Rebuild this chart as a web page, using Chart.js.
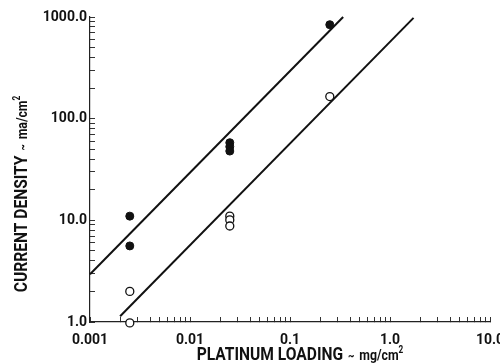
<!DOCTYPE html>
<html>
<head>
<meta charset="utf-8">
<script src="https://cdn.jsdelivr.net/npm/chart.js@4"></script>
<style>
  html, body { margin:0; padding:0; background:#fff; }
  #wrap { width:500px; height:364px; position:relative; }
</style>
</head>
<body>
<div id="wrap"><canvas id="chart" width="500" height="364"></canvas></div>
<script>
// data (log-log)
const filledX = [0.0025, 0.0025, 0.025, 0.025, 0.025, 0.25];
const filledY = [11.0, 5.6, 58, 53, 48, 840];
const openX = [0.0025, 0.0025, 0.025, 0.025, 0.025, 0.25];
const openY = [2.0, 0.98, 11.0, 10.1, 8.8, 165];
const fitFilledX = [0.001, 0.34];
const fitFilledY = [2.95, 1000];
const fitOpenX = [0.002, 1.72];
const fitOpenY = [1.14, 980];

const xMajor = [0.001, 0.01, 0.1, 1, 10];
const xMajorLabels = ['0.001', '0.01', '0.1', '1.0', '10.0'];
const yMajor = [1, 10, 100, 1000];
const yMajorLabels = ['1.0', '10.0', '100.0', '1000.0'];

const FONT = "Roboto, 'Liberation Sans', sans-serif";

(function(){
  const pts = (xs, ys) => xs.map((x, i) => ({x: x, y: ys[i]}));

  // 1..9 x 10^n ticks across the range
  const logTicks = (min, max) => {
    const out = [];
    for (let e = Math.round(Math.log10(min)); e < Math.round(Math.log10(max)); e++) {
      for (let s = 1; s < 10; s++) out.push({value: +(s * Math.pow(10, e)).toPrecision(3)});
    }
    out.push({value: max});
    return out;
  };
  const labelFor = (majors, labels) => (v) => {
    const i = majors.findIndex(m => Math.abs(m - v) / m < 1e-6);
    return i >= 0 ? labels[i] : '';
  };

  // centred run of mixed-size text, squeezed sideways to look condensed
  const drawParts = (ctx, parts) => {
    let total = 0;
    parts.forEach(p => { ctx.font = p.f; p.w = ctx.measureText(p.t).width; total += p.w; });
    let cx = -total / 2;
    parts.forEach(p => {
      ctx.font = p.f;
      ctx.fillText(p.t, cx, p.dy || 0);
      cx += p.w;
    });
  };

  const titles = {
    id: 'titles',
    afterDraw(chart) {
      const ctx = chart.ctx;
      ctx.save();
      ctx.fillStyle = '#111';
      ctx.textBaseline = 'alphabetic';
      ctx.textAlign = 'left';
      ctx.translate(300, 360);
      ctx.scale(0.82, 1);
      drawParts(ctx, [
        {t: 'PLATINUM LOADING', f: 'bold 19px ' + FONT},
        {t: '  ~  ', f: 'bold 12px ' + FONT},
        {t: 'mg/cm', f: 'bold 15px ' + FONT},
        {t: '2', f: 'bold 10px ' + FONT, dy: -7}
      ]);
      ctx.restore();

      ctx.save();
      ctx.fillStyle = '#111';
      ctx.textBaseline = 'alphabetic';
      ctx.textAlign = 'left';
      ctx.translate(27, 194);
      ctx.rotate(-Math.PI / 2);
      ctx.scale(0.82, 1);
      drawParts(ctx, [
        {t: 'CURRENT DENSITY', f: 'bold 19px ' + FONT},
        {t: '  ~  ', f: 'bold 12px ' + FONT},
        {t: 'ma/cm', f: 'bold 15px ' + FONT},
        {t: '2', f: 'bold 10px ' + FONT, dy: -7}
      ]);
      ctx.restore();
    }
  };

  const ctx = document.getElementById('chart').getContext('2d');
  new Chart(ctx, {
    type: 'scatter',
    data: {
      datasets: [
        {data: pts(fitFilledX, fitFilledY), showLine: true, borderColor: '#111', borderWidth: 2,
         pointRadius: 0, clip: false},
        {data: pts(fitOpenX, fitOpenY), showLine: true, borderColor: '#111', borderWidth: 2,
         pointRadius: 0, clip: false},
        {data: pts(filledX, filledY), pointRadius: 4, pointBackgroundColor: '#111',
         pointBorderColor: '#111', pointBorderWidth: 1, clip: false},
        {data: pts(openX, openY), pointRadius: 4, pointBackgroundColor: '#fff',
         pointBorderColor: '#111', pointBorderWidth: 1.3, clip: false}
      ]
    },
    options: {
      responsive: false,
      animation: false,
      layout: {padding: {left: 0, right: 10, top: 17, bottom: 0}},
      plugins: {legend: {display: false}, tooltip: {enabled: false}},
      scales: {
        x: {
          type: 'logarithmic', min: 0.001, max: 10,
          afterBuildTicks: s => { s.ticks = logTicks(0.001, 10); },
          afterFit: s => { s.height = 42; s.paddingLeft = 0; s.paddingRight = 0; },
          grid: {drawOnChartArea: false, tickLength: -5, color: '#333', tickWidth: 1},
          border: {color: '#222', width: 1.2},
          ticks: {autoSkip: false, maxRotation: 0, padding: 15, color: '#111',
                  font: {family: FONT, size: 14, weight: 'bold'},
                  callback: labelFor(xMajor, xMajorLabels)}
        },
        y: {
          type: 'logarithmic', min: 1, max: 1000,
          afterBuildTicks: s => { s.ticks = logTicks(1, 1000); },
          afterFit: s => { s.width = 90; },
          grid: {drawOnChartArea: false, tickLength: -5, color: '#333', tickWidth: 1},
          border: {color: '#222', width: 1.2},
          ticks: {autoSkip: false, padding: 8, color: '#111',
                  font: {family: FONT, size: 14, weight: 'bold'},
                  callback: labelFor(yMajor, yMajorLabels)}
        }
      }
    },
    plugins: [titles]
  });
})();
</script>
</body>
</html>
